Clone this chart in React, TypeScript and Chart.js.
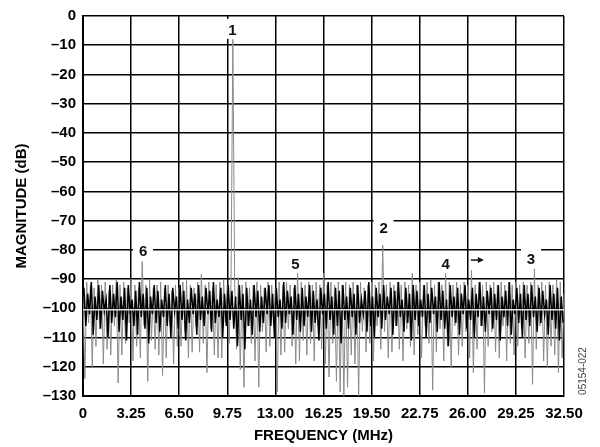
import React, { useEffect, useRef } from 'react';
import { Chart, registerables } from 'chart.js';

Chart.register(...registerables);

// FFT bin spacing (MHz) of the plotted traces
const BIN_MHZ = 0.125;
const X_MIN = 0;
const X_MAX = 32.5;
const X_STEP = 3.25;
const Y_MIN = -130;
const Y_MAX = 0;
const Y_STEP = 10;

// outer (gray) trace, one value per bin starting at 0 MHz
const GRAY_DB = [
  -96, -124, -91, -105, -92, -120, -93, -113, -90, -107, -92, -119, -91, -114, -94, -116, -92, -106, -90, -125.5,
  -92, -116, -91, -112, -93, -105, -90, -118, -92, -113, -93, -117, -84, -106, -92, -125, -90, -111, -93, -114,
  -92, -116, -91, -123, -93, -117, -92, -106, -94, -119, -92, -113, -93, -113, -91, -108, -90.5, -117, -92, -115,
  -93, -106, -91, -115, -88.3, -112, -92, -122, -91, -107, -93, -116, -92, -117, -91, -117, -90, -105, -92, -112,
  -91, -8, -92, -114, -89.5, -121, -92, -127, -91, -106, -93, -112, -92, -118, -91, -127, -92, -108, -93, -115,
  -91, -113, -92, -106, -93, -128.6, -91, -116, -92, -115, -91, -107, -92, -113, -93, -119, -87, -118, -91, -111,
  -92, -116, -91, -112, -92, -118, -91, -106, -92, -114, -88, -119, -92, -123.5, -91, -112, -92, -125, -91, -128.6,
  -92, -130, -91, -127, -92, -116, -91, -119, -92, -130, -91, -108, -93, -115, -92, -112, -91, -118, -92, -106,
  -91, -114, -78.4, -108, -92, -117, -91, -115, -92, -106, -91, -114, -92, -118, -91, -107, -92, -113, -88, -116,
  -92, -109, -91, -117, -92, -106, -91, -112, -90, -128, -92, -115, -91, -107, -92, -118, -88, -113, -91, -120,
  -92, -106, -91, -116, -92, -113, -91, -108, -92, -117, -87, -122, -92, -114, -91, -106, -92, -129, -91, -113,
  -92, -108, -91, -115, -92, -117, -91, -106, -92, -118, -91, -112, -92, -116, -91, -113, -92, -107, -91, -117,
  -92, -112, -91, -126, -86.5, -114, -92, -106, -91, -118, -92, -120, -91, -113, -92, -116, -90, -122, -91, -117, -95,
];

// inner (black) trace, one value per bin starting half a bin in
const BLACK_DB = [
  -93, -106, -95, -102, -91, -109, -96, -104, -92, -107, -94, -101, -97, -110, -92, -105, -95, -103, -91, -108,
  -96, -104, -93, -111, -92, -102, -97, -106, -94, -109, -91, -103, -95, -107, -93, -112, -96, -102, -92, -105,
  -94, -108, -97, -103, -92, -106, -95, -110, -93, -101, -96, -107, -92, -104, -94, -111, -97, -105, -93, -102,
  -95, -109, -92, -104, -96, -106, -93, -102, -94, -108, -91, -105, -97, -103, -93, -110, -95, -106, -92, -104,
  -94, -107, -96, -113, -92, -104, -95, -114, -93, -106, -97, -109, -92, -103, -94, -108, -96, -105, -93, -102,
  -92, -106, -95, -110, -93, -103, -97, -107, -91, -105, -94, -102, -96, -109, -92, -104, -95, -108, -93, -106,
  -96, -103, -92, -108, -94, -105, -97, -111, -93, -102, -95, -107, -91, -104, -96, -109, -93, -106, -94, -112,
  -92, -104, -96, -107, -93, -103, -95, -109, -92, -105, -97, -102, -94, -108, -91, -106, -96, -110, -93, -103,
  -95, -107, -92, -104, -96, -102, -93, -109, -94, -106, -91, -103, -97, -108, -93, -105, -95, -111, -92, -104,
  -94, -106, -97, -103, -92, -110, -95, -105, -93, -102, -96, -108, -91, -104, -94, -107, -97, -113, -92, -103,
  -96, -105, -93, -109, -95, -102, -92, -107, -97, -104, -93, -110, -95, -103, -91, -106, -96, -108, -94, -102,
  -93, -107, -95, -104, -92, -111, -96, -103, -94, -106, -91, -109, -97, -102, -93, -105, -95, -110, -92, -104,
  -95, -106, -92, -103, -96, -108, -93, -105, -94, -102, -97, -109, -92, -104, -95, -107, -93, -111, -96, -105,
];

// light average-level line
const FLOOR_LINE_DB = -100.5;

// harmonic markers
const MARK_TEXT = ['1', '2', '3', '4', '5', '6', '→'];
const MARK_MHZ = [10.09, 20.31, 30.27, 24.51, 14.35, 4.06, 26.68];
const MARK_DB = [-4.75, -72.6, -83.2, -84.9, -84.9, -80.4, -83.5];

const Y_TITLE = 'MAGNITUDE (dB)';
const X_TITLE = 'FREQUENCY (MHz)';
const FIG_ID = '05154-022';

const FONT = '"Liberation Sans", Arial, Helvetica, sans-serif';

const overlayPlugin = {
  id: 'overlay',
  afterDatasetsDraw(chart: any) {
    const { ctx, scales } = chart;
    const xs = scales.x;
    const ys = scales.y;
    ctx.save();
    ctx.font = `bold 15px ${FONT}`;
    ctx.textAlign = 'center';
    ctx.textBaseline = 'middle';
    MARK_TEXT.forEach((t, i) => {
      const px = xs.getPixelForValue(MARK_MHZ[i]);
      const py = ys.getPixelForValue(MARK_DB[i]);
      if (t === '→') {
        ctx.strokeStyle = '#111';
        ctx.fillStyle = '#111';
        ctx.lineWidth = 1.5;
        ctx.beginPath();
        ctx.moveTo(px - 7, py);
        ctx.lineTo(px + 1, py);
        ctx.stroke();
        ctx.beginPath();
        ctx.moveTo(px + 6, py);
        ctx.lineTo(px, py - 3);
        ctx.lineTo(px, py + 3);
        ctx.closePath();
        ctx.fill();
      } else {
        ctx.fillStyle = '#fff';
        ctx.fillRect(px - 10, py - 11, 20, 20);
        ctx.fillStyle = '#111';
        ctx.fillText(t, px, py + 1);
      }
    });
    ctx.restore();
  },
  afterDraw(chart: any) {
    const { ctx, chartArea } = chart;
    ctx.save();
    ctx.fillStyle = '#000';
    ctx.font = `bold 15px ${FONT}`;
    ctx.textAlign = 'center';
    ctx.textBaseline = 'middle';
    ctx.fillText(X_TITLE, (chartArea.left + chartArea.right) / 2, 436);
    ctx.save();
    ctx.translate(22, (chartArea.top + chartArea.bottom) / 2);
    ctx.rotate(-Math.PI / 2);
    ctx.fillText(Y_TITLE, 0, 0);
    ctx.restore();
    ctx.save();
    ctx.translate(583, chartArea.bottom - 25);
    ctx.rotate(-Math.PI / 2);
    ctx.font = `10px ${FONT}`;
    ctx.fillStyle = '#444';
    ctx.fillText(FIG_ID, 0, 0);
    ctx.restore();
    ctx.restore();
  },
};

export default function App() {
  const ref = useRef<HTMLCanvasElement | null>(null);

  useEffect(() => {
    if (!ref.current) return;
    const gray = GRAY_DB.map((v, i) => ({ x: i * BIN_MHZ, y: v }));
    const black = BLACK_DB.map((v, i) => ({ x: (i + 0.5) * BIN_MHZ, y: v }));
    const floor = [
      { x: X_MIN, y: FLOOR_LINE_DB },
      { x: X_MAX, y: FLOOR_LINE_DB },
    ];
    const chart = new Chart(ref.current, {
      type: 'line',
      data: {
        datasets: [
          { data: floor, borderColor: '#e4e4e4', borderWidth: 1.5, pointRadius: 0, order: 0 },
          { data: black, borderColor: '#000', borderWidth: 1.5, pointRadius: 0, order: 1 },
          { data: gray, borderColor: '#8a8a8a', borderWidth: 1, pointRadius: 0, order: 2 },
        ],
      },
      options: {
        responsive: false,
        animation: false,
        events: [],
        layout: { padding: { left: 0, top: 13, right: 36, bottom: 0 } },
        plugins: { legend: { display: false }, tooltip: { enabled: false }, title: { display: false } },
        elements: { line: { tension: 0 } },
        scales: {
          x: {
            type: 'linear',
            min: X_MIN,
            max: X_MAX,
            afterFit: (s: any) => { s.height = 51; },
            ticks: {
              stepSize: X_STEP,
              color: '#000',
              padding: 9,
              maxRotation: 0,
              autoSkip: false,
              font: { family: FONT, size: 15, weight: 'bold' },
              callback: (v: any) => (Number(v) === 0 ? '0' : Number(v).toFixed(2)),
            },
            grid: { color: '#000', lineWidth: 1.5, drawTicks: false },
            border: { color: '#000', width: 2 },
          },
          y: {
            type: 'linear',
            min: Y_MIN,
            max: Y_MAX,
            afterFit: (s: any) => { s.width = 83; },
            ticks: {
              stepSize: Y_STEP,
              color: '#000',
              padding: 7,
              autoSkip: false,
              font: { family: FONT, size: 15, weight: 'bold' },
              callback: (v: any) => (Number(v) === 0 ? '0' : '–' + Math.abs(Number(v))),
            },
            grid: { color: '#000', lineWidth: 1.5, drawTicks: false },
            border: { color: '#000', width: 2 },
          },
        },
      },
      plugins: [overlayPlugin],
    } as any);
    return () => chart.destroy();
  }, []);

  return (
    <div style={{ position: 'fixed', left: 0, top: 0, width: 600, height: 447, background: '#fff' }}>
      <canvas ref={ref} width={600} height={447} />
    </div>
  );
}
